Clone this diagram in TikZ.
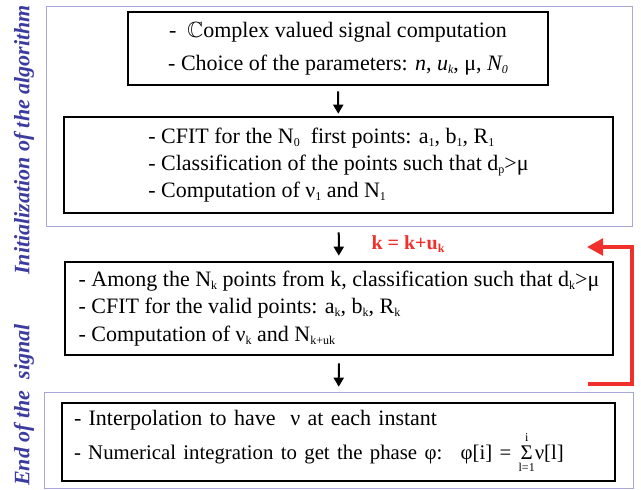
\documentclass[tikz,border=0pt]{standalone}
\usepackage{amssymb}
\usepackage{fontspec}
\setmainfont{Liberation Serif}
\usetikzlibrary{arrows.meta}

\definecolor{panel}{HTML}{A8A8D6}
\definecolor{phase}{HTML}{3C3CA0}
\definecolor{update}{HTML}{F2302B}
\newcommand{\lowidx}[1]{\raisebox{-0.3ex}{\fontsize{9}{9}\selectfont #1}}
\newcommand{\phasesum}{\ensuremath{\mathop{\hbox{Σ}}\limits_{\hbox{\fontsize{9}{9}\selectfont l=1}}^{\hbox{\fontsize{9}{9}\selectfont i}}}}

\begin{document}
\begin{tikzpicture}[x=0.75pt,y=0.75pt,font=\fontsize{16.5}{20.5}\selectfont,
  stepbox/.style={draw,line width=2pt,inner sep=0pt},
  panelline/.style={draw=panel,line width=0.75pt},
  sidelabel/.style={rotate=90,text=phase,font=\fontsize{16.5}{16.5}\selectfont\bfseries\itshape},
  flow/.style={-{Triangle[length=6.75pt,width=7.5pt]},line width=1.5pt},
  updarrow/.style={-{Triangle[length=12pt,width=12.5pt]},draw=update,line width=2.5pt}]
\useasboundingbox (0,0) rectangle (641,-489);
% panels
\draw[panelline] (46,-6) rectangle (632,-226);
\draw[panelline] (44,-392) rectangle (633,-488);
\node[sidelabel] (initlab) at (24,-140) {Initialization of the algorithm};
\node[sidelabel] (endlab) at (24,-405) {End of the\ \ signal};
% boxes
\node[stepbox,minimum width=315pt,minimum height=54.75pt,align=center,font=\fontsize{16.5}{24.75}\selectfont] (init) at (338,-48.5)
 {-~~$\mathbb{C}$omplex valued signal computation\\
  - Choice of the parameters: \textit{n}, \textit{u\lowidx{k}}, μ, \textit{N\lowidx{0}}};
\node[stepbox,minimum width=411.75pt,minimum height=72pt,align=left] (first) at (338.5,-165)
 {- CFIT for the N\lowidx{0}~ first points: a\lowidx{1}, b\lowidx{1}, R\lowidx{1}\\
  - Classification of the points such that d\lowidx{p}>μ\\
  - Computation of ν\lowidx{1} and N\lowidx{1}};
\node[stepbox,minimum width=411pt,minimum height=69.75pt,align=left] (iter) at (339,-308.5)
 {- Among the N\lowidx{k} points from k, classification such that d\lowidx{k}>μ\\
  - CFIT for the valid points: a\lowidx{k}, b\lowidx{k}, R\lowidx{k}\\
  - Computation of ν\lowidx{k} and N\lowidx{k+uk}};
\node[stepbox,minimum width=414.75pt,minimum height=58.5pt,align=left,inner xsep=9pt,text width=396.75pt,font=\fontsize{16.5}{22}\selectfont] (final) at (338.5,-442)
 {- Interpolation to have~ ν at each instant\\
  {\fontsize{15.6}{22}\selectfont - Numerical integration to get the phase φ:~ φ[i] = \phasesum ν[l]}};
\node[text=update,font=\fontsize{15}{15}\selectfont\bfseries] (kupd) at (408,-244) {k = k+u\lowidx{k}};
% connectors
\draw[flow,shorten <=3.75pt,shorten >=1.5pt] (init) -- (first);
\draw[flow,shorten <=13.5pt,shorten >=3.75pt] (first) -- (iter);
\draw[flow,shorten <=5.25pt,shorten >=11.25pt] (iter) -- (final);
\coordinate (loopstart) at (588,-384);
\coordinate (loopside) at (632,0);
\coordinate (loopend) at (587,-247);
\draw[updarrow] (loopstart) -- (loopstart -| loopside) |- (loopend);
\end{tikzpicture}
\end{document}
